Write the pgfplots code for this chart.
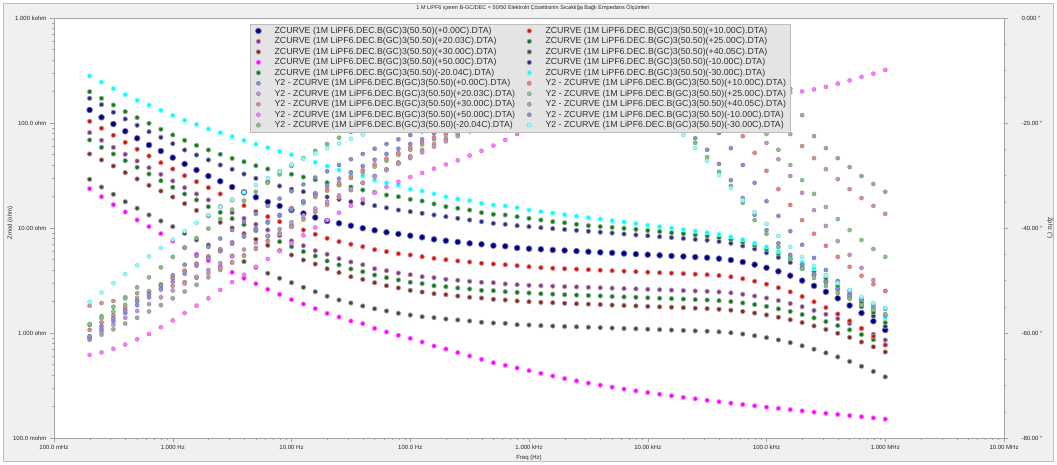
\documentclass[border=0pt]{standalone}
\usepackage{pgfplots}
\pgfplotsset{compat=1.18}
\usepackage{pgfplotstable}
\usepackage{fontspec}
\setmainfont{Liberation Sans}

\definecolor{zA}{RGB}{0,0,128}
\definecolor{zB}{RGB}{205,20,20}
\definecolor{zC}{RGB}{125,60,130}
\definecolor{zD}{RGB}{20,115,30}
\definecolor{zE}{RGB}{120,45,40}
\definecolor{zF}{RGB}{70,70,70}
\definecolor{zG}{RGB}{255,0,255}
\definecolor{zH}{RGB}{45,45,120}
\definecolor{zI}{RGB}{20,120,30}
\definecolor{zJ}{RGB}{0,255,255}
\definecolor{pA}{RGB}{140,140,225}
\definecolor{pB}{RGB}{235,130,130}
\definecolor{pC}{RGB}{190,150,200}
\definecolor{pD}{RGB}{140,195,140}
\definecolor{pE}{RGB}{205,150,150}
\definecolor{pF}{RGB}{165,165,165}
\definecolor{pG}{RGB}{255,120,255}
\definecolor{pH}{RGB}{140,145,200}
\definecolor{pI}{RGB}{130,190,130}
\definecolor{pJ}{RGB}{140,255,255}
\definecolor{bgc}{RGB}{240,240,240}
\definecolor{frc}{RGB}{190,190,190}
\definecolor{axc}{RGB}{165,165,165}
\definecolor{lgc}{RGB}{228,228,228}

% log10(Zmod/ohm) vs log10(f/Hz)
\pgfplotstableread{
lf A B C D E F G H I J
-0.7 2.124 2.016 1.908 1.838 1.705 1.464 1.374 2.235 2.298 2.448
-0.6 2.054 1.950 1.835 1.768 1.648 1.390 1.298 2.175 2.235 2.390
-0.5 1.990 1.883 1.768 1.705 1.590 1.321 1.222 2.102 2.171 2.327
-0.4 1.921 1.816 1.702 1.641 1.527 1.250 1.152 2.038 2.108 2.270
-0.3 1.854 1.750 1.638 1.578 1.467 1.188 1.076 1.978 2.051 2.216
-0.2 1.790 1.686 1.574 1.514 1.406 1.124 1.013 1.917 1.997 2.171
-0.1 1.733 1.622 1.511 1.450 1.352 1.067 0.946 1.863 1.940 2.121
0.0 1.670 1.562 1.448 1.388 1.295 1.013 0.876 1.803 1.886 2.073
0.1 1.610 1.498 1.384 1.324 1.232 0.949 0.812 1.743 1.835 2.026
0.2 1.552 1.441 1.324 1.267 1.168 0.886 0.750 1.695 1.787 1.987
0.3 1.495 1.384 1.267 1.203 1.117 0.838 0.689 1.648 1.743 1.943
0.4 1.445 1.324 1.203 1.149 1.054 0.784 0.631 1.600 1.702 1.908
0.5 1.390 1.267 1.146 1.089 1.000 0.733 0.578 1.559 1.663 1.870
0.6 1.340 1.213 1.092 1.032 0.946 0.680 0.521 1.514 1.631 1.835
0.7 1.292 1.156 1.035 0.975 0.892 0.625 0.469 1.473 1.593 1.797
0.8 1.248 1.108 0.981 0.924 0.835 0.569 0.416 1.438 1.562 1.765
0.9 1.210 1.060 0.927 0.870 0.784 0.521 0.368 1.400 1.538 1.730
1.0 1.171 1.020 0.878 0.822 0.743 0.479 0.317 1.369 1.512 1.698
1.1 1.138 0.981 0.831 0.775 0.695 0.435 0.276 1.346 1.485 1.664
1.2 1.100 0.940 0.784 0.733 0.657 0.393 0.232 1.324 1.460 1.626
1.3 1.067 0.902 0.750 0.686 0.612 0.350 0.187 1.295 1.432 1.590
1.4 1.045 0.870 0.708 0.648 0.575 0.314 0.152 1.273 1.410 1.552
1.5 1.022 0.845 0.676 0.610 0.536 0.286 0.114 1.250 1.390 1.524
1.6 0.998 0.822 0.650 0.584 0.511 0.257 0.089 1.235 1.362 1.498
1.7 0.978 0.794 0.612 0.552 0.479 0.231 0.044 1.213 1.340 1.457
1.8 0.959 0.775 0.593 0.527 0.450 0.210 0.010 1.192 1.314 1.429
1.9 0.943 0.755 0.571 0.505 0.429 0.188 -0.022 1.171 1.298 1.410
2.0 0.927 0.743 0.555 0.483 0.406 0.171 -0.051 1.156 1.273 1.369
2.1 0.911 0.727 0.536 0.470 0.390 0.155 -0.086 1.140 1.257 1.352
2.2 0.892 0.711 0.527 0.450 0.374 0.146 -0.124 1.124 1.229 1.324
2.3 0.879 0.698 0.511 0.441 0.365 0.133 -0.152 1.108 1.203 1.298
2.4 0.867 0.686 0.502 0.429 0.352 0.124 -0.187 1.092 1.188 1.276
2.5 0.854 0.676 0.492 0.419 0.340 0.114 -0.219 1.076 1.171 1.260
2.6 0.845 0.664 0.483 0.406 0.333 0.102 -0.251 1.060 1.146 1.235
2.7 0.832 0.657 0.479 0.403 0.321 0.095 -0.283 1.044 1.130 1.219
2.8 0.826 0.650 0.467 0.393 0.314 0.092 -0.308 1.035 1.124 1.210
2.9 0.810 0.641 0.460 0.387 0.305 0.079 -0.333 1.022 1.108 1.193
3.0 0.803 0.631 0.454 0.381 0.298 0.076 -0.359 1.013 1.092 1.171
3.1 0.797 0.622 0.450 0.374 0.292 0.070 -0.384 1.003 1.076 1.156
3.2 0.791 0.617 0.446 0.370 0.288 0.066 -0.410 0.994 1.060 1.142
3.3 0.786 0.612 0.442 0.365 0.283 0.062 -0.434 0.986 1.050 1.127
3.4 0.780 0.608 0.439 0.361 0.279 0.059 -0.456 0.977 1.035 1.113
3.5 0.774 0.603 0.435 0.357 0.275 0.055 -0.477 0.969 1.022 1.099
3.6 0.768 0.598 0.431 0.353 0.271 0.051 -0.497 0.960 1.013 1.085
3.7 0.763 0.593 0.427 0.348 0.266 0.047 -0.516 0.952 1.006 1.070
3.8 0.757 0.589 0.423 0.344 0.262 0.043 -0.534 0.943 0.997 1.056
3.9 0.751 0.584 0.420 0.340 0.258 0.040 -0.551 0.934 0.987 1.042
4.0 0.746 0.579 0.416 0.335 0.253 0.036 -0.567 0.926 0.976 1.027
4.1 0.740 0.574 0.412 0.331 0.249 0.032 -0.583 0.917 0.966 1.013
4.2 0.734 0.570 0.408 0.327 0.245 0.028 -0.598 0.909 0.955 0.999
4.3 0.729 0.565 0.404 0.323 0.241 0.024 -0.613 0.900 0.945 0.985
4.4 0.723 0.560 0.400 0.318 0.236 0.020 -0.627 0.891 0.934 0.970
4.5 0.717 0.555 0.397 0.314 0.232 0.017 -0.641 0.883 0.924 0.956
4.6 0.708 0.547 0.391 0.308 0.226 0.011 -0.655 0.871 0.910 0.939
4.7 0.695 0.535 0.382 0.299 0.217 0.002 -0.668 0.854 0.891 0.916
4.8 0.676 0.517 0.369 0.286 0.205 -0.010 -0.681 0.829 0.865 0.889
4.9 0.651 0.493 0.352 0.271 0.190 -0.026 -0.694 0.800 0.835 0.856
5.0 0.621 0.465 0.333 0.253 0.172 -0.044 -0.706 0.763 0.797 0.819
5.1 0.587 0.431 0.309 0.230 0.150 -0.066 -0.718 0.720 0.754 0.774
5.2 0.546 0.392 0.281 0.205 0.126 -0.092 -0.730 0.672 0.705 0.726
5.3 0.499 0.347 0.250 0.176 0.099 -0.122 -0.742 0.617 0.650 0.672
5.4 0.449 0.297 0.215 0.144 0.067 -0.154 -0.754 0.557 0.589 0.612
5.5 0.392 0.242 0.178 0.109 0.034 -0.189 -0.765 0.490 0.523 0.547
5.6 0.330 0.181 0.136 0.071 -0.003 -0.228 -0.776 0.417 0.449 0.477
5.7 0.262 0.115 0.091 0.030 -0.042 -0.271 -0.787 0.338 0.371 0.402
5.8 0.190 0.044 0.041 -0.015 -0.086 -0.317 -0.798 0.252 0.286 0.321
5.9 0.112 -0.032 -0.012 -0.063 -0.132 -0.366 -0.809 0.161 0.196 0.235
6.0 0.028 -0.114 -0.067 -0.114 -0.181 -0.418 -0.820 0.063 0.099 0.144
}\zmodtab

% phase (degrees) vs log10(f/Hz)
\pgfplotstableread{
lf A B C D E F G H I J
-0.7 -60.8 -59.4 -61.0 -58.5 -54.8 -61.3 -64.2 -60.6 -58.3 -54.1
-0.6 -59.3 -58.0 -59.7 -57.2 -54.3 -60.3 -63.7 -58.7 -56.8 -52.3
-0.5 -57.7 -56.6 -58.4 -55.9 -53.9 -59.3 -63.0 -57.2 -55.0 -50.5
-0.4 -56.2 -55.2 -57.1 -54.6 -53.2 -58.2 -62.2 -55.7 -53.4 -48.8
-0.3 -54.7 -53.8 -55.8 -53.3 -52.4 -57.1 -61.2 -54.0 -51.3 -47.1
-0.2 -53.2 -52.4 -54.5 -52.0 -52.1 -55.9 -60.2 -52.6 -49.4 -45.4
-0.1 -51.7 -51.0 -53.2 -50.7 -51.6 -54.7 -58.9 -50.9 -47.5 -43.8
0.0 -50.2 -49.6 -51.9 -49.4 -51.0 -53.4 -57.6 -49.0 -45.5 -42.2
0.1 -48.7 -48.2 -50.6 -48.1 -50.3 -52.1 -56.2 -47.0 -43.7 -40.6
0.2 -47.2 -46.8 -49.3 -46.8 -49.5 -50.8 -54.8 -45.3 -41.9 -39.0
0.3 -45.8 -45.4 -48.0 -45.5 -48.6 -49.4 -53.4 -43.6 -40.1 -37.5
0.4 -44.4 -44.0 -46.7 -44.2 -47.6 -48.0 -51.8 -42.0 -38.3 -36.0
0.5 -43.0 -42.7 -45.4 -42.9 -46.5 -46.6 -50.3 -40.4 -36.5 -34.6
0.6 -41.6 -41.4 -44.1 -41.6 -45.3 -45.2 -48.9 -38.8 -34.8 -33.2
0.7 -40.2 -40.1 -42.8 -40.3 -44.0 -43.8 -47.4 -37.3 -33.1 -31.8
0.8 -38.9 -38.8 -41.5 -39.0 -42.6 -42.4 -45.9 -35.8 -31.4 -30.5
0.9 -37.6 -37.5 -40.2 -37.7 -41.2 -41.0 -44.4 -34.4 -29.8 -29.2
1.0 -36.3 -36.2 -38.9 -36.5 -39.8 -39.6 -42.9 -33.0 -28.2 -27.9
1.1 -34.9 -35.0 -37.6 -35.3 -38.4 -38.2 -41.4 -31.7 -26.7 -26.8
1.2 -33.4 -33.8 -36.3 -34.1 -37.0 -36.8 -39.9 -30.4 -25.3 -25.8
1.3 -31.9 -32.6 -35.0 -32.9 -35.6 -35.4 -38.5 -29.2 -24.0 -24.8
1.4 -30.6 -31.4 -33.8 -31.7 -34.2 -34.0 -37.1 -28.0 -22.8 -23.9
1.5 -29.4 -30.2 -32.6 -30.5 -32.8 -32.7 -35.8 -26.9 -21.7 -23.0
1.6 -28.2 -29.0 -31.4 -29.4 -31.4 -31.4 -34.5 -25.9 -20.7 -22.2
1.7 -27.0 -27.9 -30.2 -28.3 -30.1 -30.1 -33.3 -24.9 -19.8 -21.4
1.8 -25.9 -26.8 -29.0 -27.2 -28.8 -28.9 -32.2 -24.0 -19.0 -20.7
1.9 -24.9 -25.7 -27.8 -26.1 -27.5 -27.7 -31.2 -23.1 -18.3 -20.0
2.0 -24.0 -24.7 -26.7 -25.1 -26.3 -26.5 -30.3 -22.3 -17.7 -19.4
2.1 -23.1 -23.7 -25.6 -24.1 -25.1 -25.4 -29.5 -21.6 -17.2 -18.8
2.2 -22.0 -22.8 -24.5 -23.1 -24.0 -24.3 -28.7 -20.9 -16.8 -18.3
2.3 -21.2 -21.9 -23.5 -22.2 -22.9 -23.2 -27.9 -20.3 -16.5 -17.8
2.4 -20.4 -21.0 -22.5 -21.3 -21.9 -22.2 -27.1 -19.7 -16.2 -17.4
2.5 -19.7 -20.2 -21.6 -20.4 -20.9 -21.2 -26.2 -19.2 -16.0 -17.0
2.6 -19.0 -19.4 -20.7 -19.6 -20.0 -20.3 -25.3 -18.7 -15.8 -16.7
2.7 -18.4 -18.7 -19.8 -18.8 -19.1 -19.4 -24.3 -18.3 -15.7 -16.5
2.8 -17.8 -18.0 -19.0 -18.1 -18.3 -18.5 -23.2 -17.9 -15.6 -16.4
2.9 -17.3 -17.4 -18.2 -17.4 -17.5 -17.7 -22.1 -17.6 -15.6 -16.3
3.0 -16.8 -16.8 -17.5 -16.7 -16.8 -16.9 -21.0 -17.3 -15.6 -16.3
3.1 -16.4 -16.3 -16.8 -16.1 -16.1 -16.2 -20.1 -17.1 -15.7 -16.4
3.2 -16.0 -15.8 -16.2 -15.5 -15.4 -15.5 -19.4 -16.9 -15.8 -16.6
3.3 -15.7 -15.4 -15.6 -15.0 -14.8 -14.8 -18.8 -16.8 -16.0 -16.8
3.4 -15.4 -15.0 -15.1 -14.5 -14.2 -14.1 -18.2 -16.8 -16.2 -17.0
3.5 -15.2 -14.7 -14.6 -14.0 -13.6 -13.5 -17.7 -16.9 -16.5 -17.3
3.6 -15.1 -14.4 -14.2 -13.6 -13.1 -12.9 -17.3 -17.0 -16.9 -17.7
3.7 -15.1 -14.2 -13.8 -13.2 -12.6 -12.3 -16.9 -17.2 -17.4 -18.1
3.8 -15.2 -14.1 -13.5 -12.9 -12.1 -11.8 -16.6 -17.5 -18.0 -18.7
3.9 -15.4 -14.1 -13.3 -12.6 -11.7 -11.3 -16.3 -17.9 -18.7 -19.2
4.0 -15.7 -14.2 -13.2 -12.4 -11.3 -10.8 -16.0 -18.4 -19.4 -19.8
4.1 -16.2 -14.4 -13.2 -12.3 -11.0 -10.4 -15.8 -19.0 -20.1 -20.6
4.2 -16.9 -14.7 -13.3 -12.3 -10.7 -10.0 -15.6 -19.8 -20.7 -21.3
4.3 -17.8 -15.1 -13.5 -12.4 -10.5 -9.7 -15.4 -20.8 -21.3 -22.3
4.4 -19.0 -15.7 -13.8 -12.6 -10.4 -9.4 -15.2 -22.9 -23.8 -24.8
4.5 -20.6 -16.5 -14.3 -13.0 -10.3 -9.2 -15.0 -25.1 -26.5 -27.2
4.6 -21.9 -17.5 -15.0 -13.6 -10.3 -9.0 -14.9 -27.8 -29.3 -29.9
4.7 -24.8 -19.3 -15.9 -14.4 -10.4 -8.9 -14.8 -30.9 -32.0 -32.4
4.8 -28.0 -22.5 -17.6 -16.0 -11.0 -8.9 -14.7 -34.3 -35.2 -34.7
4.9 -31.4 -25.7 -20.9 -18.8 -12.5 -9.0 -14.6 -37.5 -38.5 -37.0
5.0 -34.9 -29.1 -23.8 -22.1 -15.5 -9.3 -14.5 -40.4 -41.1 -39.2
5.1 -37.7 -32.6 -26.9 -25.1 -19.8 -10.5 -14.4 -42.9 -43.6 -41.5
5.2 -40.6 -35.6 -30.1 -28.0 -22.1 -13.5 -14.2 -45.1 -45.9 -43.6
5.3 -43.2 -38.5 -33.3 -30.9 -24.4 -18.5 -14.0 -47.0 -47.8 -45.5
5.4 -45.7 -41.1 -36.6 -33.5 -26.7 -22.5 -13.6 -48.8 -49.5 -47.2
5.5 -48.0 -43.4 -39.6 -36.0 -28.8 -24.8 -13.1 -50.3 -51.0 -49.0
5.6 -50.1 -45.5 -42.5 -38.3 -30.7 -26.7 -12.5 -51.6 -52.4 -50.5
5.7 -52.0 -47.4 -45.1 -40.4 -32.6 -28.4 -11.9 -52.8 -53.5 -51.8
5.8 -53.7 -49.1 -47.6 -42.3 -34.3 -30.1 -11.2 -53.7 -54.7 -53.1
5.9 -55.2 -50.7 -49.9 -44.0 -35.8 -31.6 -10.6 -54.7 -55.6 -54.3
6.0 -56.6 -52.0 -52.0 -45.5 -37.3 -33.1 -9.9 -55.4 -56.4 -55.2
}\phztab

\pgfplotsset{
  zm/.style={only marks, mark=*, mark size=2.2pt,
    mark options={fill=#1, draw=#1!55!white, line width=0.7pt}},
  zmb/.style={only marks, mark=*, mark size=2.9pt,
    mark options={fill=#1, draw=#1!55!white, line width=0.7pt}},
  ph/.style={only marks, mark=*, mark size=2.1pt,
    mark options={fill=#1, draw=#1!80!black, line width=0.3pt}},
  common/.style={
    at={(54pt,27pt)}, anchor=south west,
    scale only axis, width=950pt, height=420pt,
    xmin=-1, xmax=7,
    tick align=outside,
    major tick length=4pt, minor tick length=2pt,
    tick style={draw=axc, line width=0.4pt},
    axis line style={draw=axc, line width=0.5pt},
    tick label style={font=\fontsize{6}{7}\selectfont, text=black!85},
    label style={font=\fontsize{6}{7}\selectfont, text=black!85},
  },
}

\begin{document}
\begin{tikzpicture}[x=1pt,y=1pt]
\fill[white] (0,0) rectangle (1057,465);
\filldraw[fill=bgc, draw=frc, line width=0.8pt] (3.5,3.5) rectangle (1053.5,461.5);
\node[font=\fontsize{5.5}{6.5}\selectfont, text=black!85] at (533,457.5)
  {1 M LiPF6 içeren B-GC/DEC = 50/50 Elektrolit Çözeltisinin Sıcaklığa Bağlı Empedans Ölçümleri};

\begin{axis}[common,
  ymin=-1, ymax=3,
  axis background/.style={fill=white},
  xtick pos=left, ytick pos=left,
  xtick={-1,0,1,2,3,4,5,6,7},
  xticklabels={100.0 mHz,1.000 Hz,10.00 Hz,100.0 Hz,1.000 kHz,10.00 kHz,100.0 kHz,1.000 MHz,10.00 MHz},
  minor xtick={-0.699,-0.523,-0.398,-0.301,-0.222,-0.155,-0.097,-0.046,
    0.301,0.477,0.602,0.699,0.778,0.845,0.903,0.954,
    1.301,1.477,1.602,1.699,1.778,1.845,1.903,1.954,
    2.301,2.477,2.602,2.699,2.778,2.845,2.903,2.954,
    3.301,3.477,3.602,3.699,3.778,3.845,3.903,3.954,
    4.301,4.477,4.602,4.699,4.778,4.845,4.903,4.954,
    5.301,5.477,5.602,5.699,5.778,5.845,5.903,5.954,
    6.301,6.477,6.602,6.699,6.778,6.845,6.903,6.954},
  ytick={-1,0,1,2,3},
  yticklabels={100.0 mohm,1.000 ohm,10.00 ohm,100.0 ohm,1.000 kohm},
  minor ytick={-0.699,-0.523,-0.398,-0.301,-0.222,-0.155,-0.097,-0.046,
    0.301,0.477,0.602,0.699,0.778,0.845,0.903,0.954,
    1.301,1.477,1.602,1.699,1.778,1.845,1.903,1.954,
    2.301,2.477,2.602,2.699,2.778,2.845,2.903,2.954},
  xlabel={Freq (Hz)}, ylabel={Zmod (ohm)},
  xlabel style={at={(axis description cs:0.5,-0.048)}, anchor=center},
  ylabel style={at={(axis description cs:-0.046,0.512)}, anchor=center},
]
\addplot[zm=zF] table[x=lf,y=F] {\zmodtab};
\addplot[zm=zG] table[x=lf,y=G] {\zmodtab};
\addplot[zm=zE] table[x=lf,y=E] {\zmodtab};
\addplot[zm=zD] table[x=lf,y=D] {\zmodtab};
\addplot[zm=zC] table[x=lf,y=C] {\zmodtab};
\addplot[zm=zB] table[x=lf,y=B] {\zmodtab};
\addplot[zmb=zA] table[x=lf,y=A] {\zmodtab};
\addplot[zm=zH] table[x=lf,y=H] {\zmodtab};
\addplot[zm=zI] table[x=lf,y=I] {\zmodtab};
\addplot[zm=zJ] table[x=lf,y=J] {\zmodtab};
\end{axis}

\begin{axis}[common,
  ymin=-80, ymax=0,
  axis x line=none, axis y line*=right,
  ytick={-80,-60,-40,-20,0},
  yticklabels={-80.00 °,-60.00 °,-40.00 °,-20.00 °,0.000 °},
  minor ytick={-75,-70,-65,-55,-50,-45,-35,-30,-25,-15,-10,-5},
  yticklabel style={xshift=10pt},
  ylabel={Zphz (°)},
  ylabel style={at={(axis description cs:1.0484,0.5)}, anchor=center, rotate=180},
  legend columns=2,
  legend cell align=left,
  legend image code/.code={\path (0pt,0pt) (20pt,0pt); \draw[#1] plot coordinates {(5pt,0pt)};},
  legend style={at={(axis description cs:0.2063,0.9857)}, anchor=north west,
    font=\fontsize{8.8}{10}\selectfont, text=black!80,
    fill=lgc, draw=frc, inner xsep=3pt, inner ysep=1.5pt,
    nodes={inner ysep=1.3pt, inner xsep=1pt},
    /tikz/every even column/.append style={column sep=8pt}},
]
\addlegendimage{zmb=zA}
\addlegendimage{zm=zB}
\addlegendimage{zm=zC}
\addlegendimage{zm=zD}
\addlegendimage{zm=zE}
\addlegendimage{zm=zF}
\addlegendimage{zm=zG}
\addlegendimage{zm=zH}
\addlegendimage{zm=zI}
\addlegendimage{zm=zJ}
\addlegendimage{ph=pA}
\addlegendimage{ph=pB}
\addlegendimage{ph=pC}
\addlegendimage{ph=pD}
\addlegendimage{ph=pE}
\addlegendimage{ph=pF}
\addlegendimage{ph=pG}
\addlegendimage{ph=pH}
\addlegendimage{ph=pI}
\addlegendimage{ph=pJ}
\addplot[ph=pF, forget plot] table[x=lf,y=F] {\phztab};
\addplot[ph=pE, forget plot] table[x=lf,y=E] {\phztab};
\addplot[ph=pD, forget plot] table[x=lf,y=D] {\phztab};
\addplot[ph=pC, forget plot] table[x=lf,y=C] {\phztab};
\addplot[ph=pB, forget plot] table[x=lf,y=B] {\phztab};
\addplot[ph=pA, forget plot] table[x=lf,y=A] {\phztab};
\addplot[ph=pH, forget plot] table[x=lf,y=H] {\phztab};
\addplot[ph=pI, forget plot] table[x=lf,y=I] {\phztab};
\addplot[ph=pJ, forget plot] table[x=lf,y=J] {\phztab};
\addplot[ph=pG, forget plot] table[x=lf,y=G] {\phztab};
\legend{
ZCURVE (1M LiPF6.DEC.B(GC)3(50.50)(+0.00C).DTA),
ZCURVE (1M LiPF6.DEC.B(GC)3(50.50)(+10.00C).DTA),
ZCURVE (1M LiPF6.DEC.B(GC)3(50.50)(+20.03C).DTA),
ZCURVE (1M LiPF6.DEC.B(GC)3(50.50)(+25.00C).DTA),
ZCURVE (1M LiPF6.DEC.B(GC)3(50.50)(+30.00C).DTA),
ZCURVE (1M LiPF6.DEC.B(GC)3(50.50)(+40.05C).DTA),
ZCURVE (1M LiPF6.DEC.B(GC)3(50.50)(+50.00C).DTA),
ZCURVE (1M LiPF6.DEC.B(GC)3(50.50)(-10.00C).DTA),
ZCURVE (1M LiPF6.DEC.B(GC)3(50.50)(-20.04C).DTA),
ZCURVE (1M LiPF6.DEC.B(GC)3(50.50)(-30.00C).DTA),
Y2 - ZCURVE (1M LiPF6.DEC.B(GC)3(50.50)(+0.00C).DTA),
Y2 - ZCURVE (1M LiPF6.DEC.B(GC)3(50.50)(+10.00C).DTA),
Y2 - ZCURVE (1M LiPF6.DEC.B(GC)3(50.50)(+20.03C).DTA),
Y2 - ZCURVE (1M LiPF6.DEC.B(GC)3(50.50)(+25.00C).DTA),
Y2 - ZCURVE (1M LiPF6.DEC.B(GC)3(50.50)(+30.00C).DTA),
Y2 - ZCURVE (1M LiPF6.DEC.B(GC)3(50.50)(+40.05C).DTA),
Y2 - ZCURVE (1M LiPF6.DEC.B(GC)3(50.50)(+50.00C).DTA),
Y2 - ZCURVE (1M LiPF6.DEC.B(GC)3(50.50)(-10.00C).DTA),
Y2 - ZCURVE (1M LiPF6.DEC.B(GC)3(50.50)(-20.04C).DTA),
Y2 - ZCURVE (1M LiPF6.DEC.B(GC)3(50.50)(-30.00C).DTA)}
\end{axis}
\end{tikzpicture}
\end{document}
